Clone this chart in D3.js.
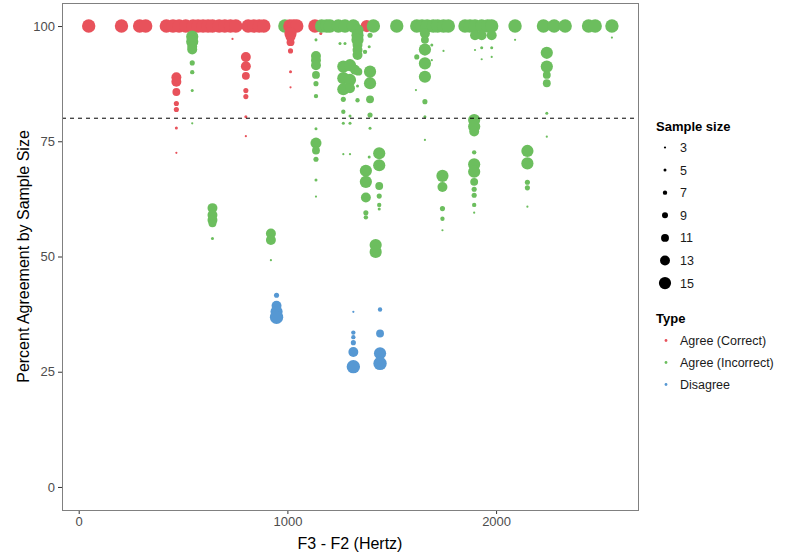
<!DOCTYPE html>
<html><head><meta charset="utf-8">
<script src="https://cdn.jsdelivr.net/npm/d3@7"></script>
<style>body{margin:0;background:#fff;} text{font-family:"Liberation Sans",Arial,sans-serif;}</style>
</head><body>
<svg id="chart" width="800" height="555"></svg>
<script>
// [F3-F2 (Hz), percent agreement, sample size]
const agreeCorrect = [
  [48,100,16],[205,100,16],[292,100,16],[321,100,16],[420,100,16],[452,100,16],[481,100,16],[513,100,16],
  [548,100,16],[572,100,16],[596,100,16],[620,100,16],[641,100,16],[673,100,16],[700,100,16],[727,100,16],
  [753,100,16],[812,100,16],[839,100,16],[865,100,16],[887,100,16],[1132,100,16],[1380,100,15],
  [468,88.9,13],[468,87.9,13],[468,85.7,11],[468,83.2,8],[468,81.9,8],[468,77.9,5],[468,72.5,3],
  [801,93.3,13],[801,91.3,13],[801,89.2,11],[801,86.0,8],[801,84.7,8],[801,80.3,5],[801,76.1,3],
  [737,97.2,3],[1160,98.4,5]
];
const agreeIncorrect = [
  [988,100,16],[1164,100,16],[1188,100,16],[1204,100,16],[1244,100,16],[1276,100,16],[1316,100,16],
  [1412,100,16],[1524,100,16],[1620,100,16],[1645,100,16],[1670,100,16],[1699,100,16],[1720,100,16],
  [1748,100,16],[1771,100,16],[1851,100,16],[1875,100,16],[1899,100,16],[1931,100,16],[1960,100,16],
  [1979,100,16],[2091,100,16],[2227,100,16],[2278,100,16],[2331,100,16],[2443,100,16],[2475,100,16],[2555,100,16],
  [544,97.7,15],[544,96.6,15],[544,95.5,13],[544,94.9,13],[544,92.0,8],[544,90.0,7],[544,86.0,5],[544,78.9,3],
  [641,60.5,13],[641,59.0,13],[641,57.9,13],[641,57.2,11],[641,53.9,5],
  [921,55.0,13],[921,53.6,13],[921,49.2,3],
  [1137,97.0,5],[1137,93.5,13],[1137,92.6,13],[1137,91.5,13],[1137,89.4,11],[1137,87.5,8],[1137,84.8,7],
  [1137,77.7,5],[1137,74.6,14],[1137,73.0,11],[1137,71.1,8],[1137,66.6,5],[1137,63.0,3],
  [1252,96.2,5],[1276,96.2,5],
  [1336,99.1,15],[1336,98.0,15],[1336,97.0,15],[1336,95.9,13],[1336,94.8,13],[1336,93.7,13],
  [1372,94.4,7],[1392,95.5,5],[1396,98.0,8],
  [1268,91.2,15],[1300,91.5,15],[1324,90.5,13],[1340,90.1,11],
  [1268,88.7,15],[1300,88.3,15],[1268,86.3,15],[1300,86.5,13],[1336,87.0,5],
  [1268,84.1,8],[1336,83.9,7],[1268,81.4,7],[1300,80.5,5],[1268,78.9,5],[1300,78.9,5],
  [1268,72.2,3],[1300,72.2,3],
  [1396,90.1,15],[1396,87.6,15],[1396,84.1,11],[1396,80.7,8],[1396,77.8,5],[1392,71.6,5],
  [1376,68.6,15],[1376,66.2,15],[1376,62.8,13],[1376,59.5,8],[1376,58.5,7],
  [1440,72.4,15],[1440,69.8,15],[1440,65.3,11],[1440,63.1,8],[1440,61.2,7],[1440,60.3,5],
  [1423,52.5,15],[1423,51.0,15],
  [1659,98.4,13],[1659,97.0,11],[1659,94.9,15],[1659,91.9,15],[1659,89.0,15],[1659,83.6,8],[1659,80.3,5],[1659,75.3,3],
  [1620,93.3,8],[1616,86.1,3],[1692,95.9,5],[1748,94.6,3],[1692,92.6,3],
  [1743,67.5,15],[1743,65.1,13],[1743,60.4,8],[1743,58.2,7],[1743,55.7,3],
  [1895,79.6,15],[1895,78.2,15],[1895,77.1,13],[1895,72.6,7],[1895,70.0,15],[1895,68.4,15],
  [1895,66.2,11],[1895,64.6,8],[1895,63.3,8],[1895,61.2,7],[1895,59.5,3],
  [1899,98.0,13],[1931,98.0,13],[1979,98.0,13],[1931,95.3,5],[1979,95.3,5],[1899,94.8,3],[1931,92.8,3],[1979,93.3,3],
  [2091,97.0,3],[2555,97.5,3],
  [2243,94.2,15],[2243,91.2,15],[2243,89.4,11],[2243,87.6,11],[2243,81.1,5],[2243,76.0,3],
  [2150,72.9,15],[2150,70.2,15],[2150,66.1,8],[2150,64.9,8],[2150,60.8,3]
];
const redTop = [[1012,100,16],[1030,100,16],[1045,100,16],
  [1015,98.4,15],[1015,97.7,13],[1015,96.5,11],[1015,94.6,8],[1015,90.1,5],[1015,86.7,3]];
const disagree = [
  [948,41.6,8],[948,39.3,13],[948,38.0,15],[948,36.8,16],
  [1316,38.0,3],[1316,33.5,7],[1316,32.5,7],[1316,31.3,8],[1316,29.3,13],[1316,26.1,16],
  [1444,38.5,7],[1444,33.3,11],[1444,29.0,15],[1444,26.8,16]
];
const xTicks = [0,1000,2000];
const yTicks = [0,25,50,75,100];
const sizeBreaks = [3,5,7,9,11,13,15];
const typeLabels = ["Agree (Correct)","Agree (Incorrect)","Disagree"];
const typeColors = ["#E8525B","#6CBE5E","#5698D3"];

const svg = d3.select("#chart");
const panel = {left:62, right:638, top:3, bottom:510};
const x = d3.scaleLinear().domain([-80,2680]).range([panel.left,panel.right]);
const y = d3.scaleLinear().domain([-5,105]).range([panel.bottom,panel.top]);
const r = d3.scalePow().exponent(1.4).domain([0,12]).range([1.1,6.1]);
const rad = n => r(n-3);
const color = d3.scaleOrdinal().domain(typeLabels).range(typeColors);

svg.append("rect").attr("width",800).attr("height",555).attr("fill","#fff");

const xAxis = d3.axisBottom(x).tickValues(xTicks).tickFormat(d3.format("d")).tickSize(4).tickPadding(3);
const yAxis = d3.axisLeft(y).tickValues(yTicks).tickFormat(d3.format("d")).tickSize(4).tickPadding(3);
const gx = svg.append("g").attr("transform",`translate(0,${panel.bottom})`).call(xAxis);
const gy = svg.append("g").attr("transform",`translate(${panel.left},0)`).call(yAxis);
[gx,gy].forEach(g=>{
  g.select(".domain").remove();
  g.selectAll(".tick line").attr("stroke","#333").attr("stroke-width",1);
  g.selectAll(".tick text").attr("fill","#4d4d4d").style("font-size","13px");
});

const pts = svg.append("g");
function draw(data, type){
  pts.append("g").selectAll("circle").data(data).join("circle")
    .attr("cx",d=>x(d[0])).attr("cy",d=>y(d[1])).attr("r",d=>rad(d[2]))
    .attr("fill",color(type));
}
draw(agreeCorrect, typeLabels[0]);
draw(agreeIncorrect, typeLabels[1]);
draw(redTop, typeLabels[0]);
draw(disagree, typeLabels[2]);

svg.append("line").attr("x1",panel.left).attr("x2",panel.right)
  .attr("y1",y(80)).attr("y2",y(80)).attr("stroke","#000").attr("stroke-width",1)
  .attr("stroke-dasharray","4,4");

svg.append("rect").attr("x",panel.left+0.5).attr("y",panel.top+0.5)
  .attr("width",panel.right-panel.left).attr("height",panel.bottom-panel.top)
  .attr("fill","none").attr("stroke","#808080").attr("stroke-width",1);

svg.append("text").attr("x",(panel.left+panel.right)/2).attr("y",549)
  .attr("text-anchor","middle").style("font-size","16px").attr("fill","#000").text("F3 - F2 (Hertz)");
svg.append("text").attr("transform",`translate(29,${(panel.top+panel.bottom)/2}) rotate(-90)`)
  .attr("text-anchor","middle").style("font-size","16px").attr("fill","#000").text("Percent Agreement by Sample Size");

// legends
const lg = svg.append("g");
lg.append("text").attr("x",656).attr("y",131).style("font-size","13px").style("font-weight","bold").text("Sample size");
sizeBreaks.forEach((n,i)=>{
  const cy = 147.5 + i*22.6;
  lg.append("circle").attr("cx",665).attr("cy",cy).attr("r",rad(n)).attr("fill","#000");
  lg.append("text").attr("x",680).attr("y",cy+4.5).style("font-size","12.5px").attr("fill","#1a1a1a").text(n);
});
lg.append("text").attr("x",656).attr("y",323).style("font-size","13px").style("font-weight","bold").text("Type");
typeLabels.forEach((t,i)=>{
  const cy = 340.5 + i*22;
  lg.append("circle").attr("cx",666).attr("cy",cy).attr("r",1.4).attr("fill",color(t));
  lg.append("text").attr("x",680).attr("y",cy+4.5).style("font-size","12.5px").attr("fill","#1a1a1a").text(t);
});
</script>
</body></html>
